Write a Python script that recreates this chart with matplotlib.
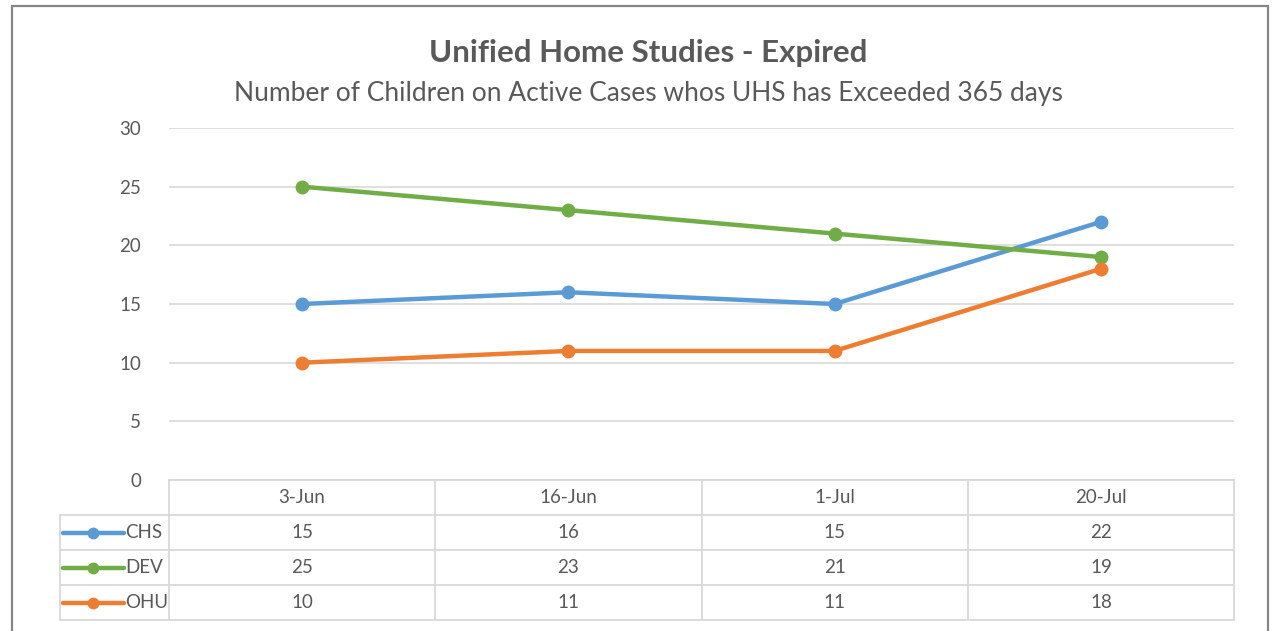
import matplotlib.pyplot as plt
from matplotlib.patches import Rectangle

# datos
fechas = ['3-Jun', '16-Jun', '1-Jul', '20-Jul']
series = ['CHS', 'DEV', 'OHU']
chs = [15, 16, 15, 22]
dev = [25, 23, 21, 19]
ohu = [10, 11, 11, 18]
colores = ['#5b9bd5', '#70ad47', '#ed7d31']

plt.rcParams['font.family'] = ['Lato', 'DejaVu Sans']
texto = '#595959'
grid = '#d9d9d9'
fs = 13.5

W, H = 1272, 631
fig = plt.figure(figsize=(W / 100, H / 100), dpi=100)

# borde gris del grafico (abierto por abajo)
fig.patches.append(Rectangle((12 / W, -0.05), (1268 - 12) / W, 1.05 - 6 / H,
                             transform=fig.transFigure, fill=False,
                             edgecolor='#868686', linewidth=1.6))

fig.text(648 / W, 1 - 53 / H, 'Unified Home Studies - Expired', ha='center', va='center',
         fontsize=22.5, fontweight='bold', color=texto)
fig.text(648 / W, 1 - 93 / H, 'Number of Children on Active Cases whos UHS has Exceeded 365 days',
         ha='center', va='center', fontsize=19, color=texto)

# grafico de lineas
ax = fig.add_axes([169 / W, 1 - 480 / H, (1234 - 169) / W, (480 - 128) / H])
x = range(len(fechas))
for vals, c in zip([chs, dev, ohu], colores):
    ax.plot(x, vals, color=c, linewidth=3.2, marker='o', markersize=9, solid_capstyle='round')
ax.set_xlim(-0.5, len(fechas) - 0.5)
ax.set_ylim(0, 30)
ax.set_yticks(range(0, 31, 5))
ax.yaxis.grid(True, color=grid, linewidth=1.2)
ax.set_axisbelow(True)
ax.set_xticks([])
for s in ax.spines.values():
    s.set_visible(False)
ax.tick_params(axis='y', length=0, pad=20, labelsize=fs, labelcolor=texto)

# tabla de datos
tx0 = 60
ta = fig.add_axes([tx0 / W, 1 - 620 / H, (1234 - tx0) / W, (620 - 480) / H])
izq = -0.5 - (169 - tx0) / ((1234 - 169) / len(fechas))
ta.set_xlim(izq, len(fechas) - 0.5)
ta.set_ylim(0, 4)
ta.axis('off')
ta.invert_yaxis()
lw = 1.3
# lineas verticales
ta.plot([izq, izq], [1, 4], color=grid, lw=lw, clip_on=False)
for i in range(len(fechas) + 1):
    ta.plot([i - 0.5, i - 0.5], [0, 4], color=grid, lw=lw, clip_on=False)
# lineas horizontales
ta.plot([-0.5, len(fechas) - 0.5], [0, 0], color=grid, lw=lw, clip_on=False)
for j in range(1, 5):
    ta.plot([izq, len(fechas) - 0.5], [j, j], color=grid, lw=lw, clip_on=False)

for i, f in enumerate(fechas):
    ta.text(i, 0.5, f, ha='center', va='center', fontsize=fs, color=texto)
for j, (nombre, vals, c) in enumerate(zip(series, [chs, dev, ohu], colores)):
    yy = j + 1.5
    ta.plot([izq + 0.01, izq + 0.24], [yy, yy], color=c, lw=3.2, solid_capstyle='round', clip_on=False)
    ta.plot([izq + 0.125], [yy], color=c, marker='o', markersize=7.5, clip_on=False)
    ta.text(izq + 0.245, yy, nombre, ha='left', va='center', fontsize=fs, color=texto)
    for i, v in enumerate(vals):
        ta.text(i, yy, str(v), ha='center', va='center', fontsize=fs, color=texto)

fig.savefig('out.png', dpi=100)
